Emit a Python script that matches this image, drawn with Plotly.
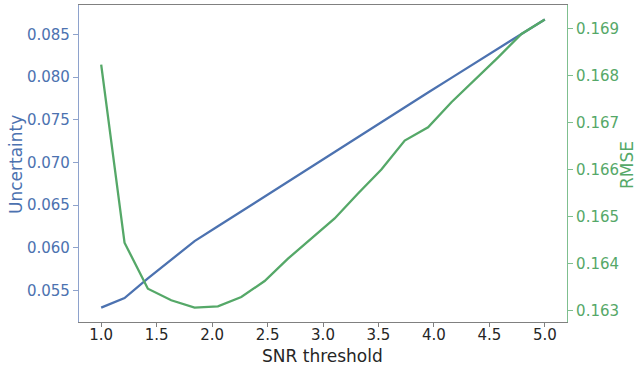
import numpy as np
import plotly.graph_objects as go

snr = np.linspace(1.0, 5.0, 20)
uncertainty = [0.05298, 0.05410, 0.05640, 0.05859, 0.06077, 0.06251, 0.06426,
               0.06600, 0.06774, 0.06947, 0.07121, 0.07295, 0.07475, 0.07647,
               0.07819, 0.07990, 0.08162, 0.08334, 0.08506, 0.08675]
rmse = [0.168234, 0.16444, 0.16346, 0.163213, 0.163057, 0.163085, 0.163283,
        0.163623, 0.164100, 0.164525, 0.164957, 0.165489, 0.166000, 0.166617,
        0.166900, 0.167432, 0.167908, 0.168389, 0.168887, 0.169198]

left_ticks = [0.055, 0.060, 0.065, 0.070, 0.075, 0.080, 0.085]
right_ticks = [0.163, 0.164, 0.165, 0.166, 0.167, 0.168, 0.169]
x_ticks = [1.0, 1.5, 2.0, 2.5, 3.0, 3.5, 4.0, 4.5, 5.0]

BLUE = "#4C72B0"
GREEN = "#55A868"
DARK = "#262626"
FONT = "DejaVu Sans"

W, H = 636, 368
ML, MR, MT, MB = 79, 69, 5, 46
PW, PH = W - ML - MR, H - MT - MB

def px(x):
    return (x - ML) / PW

def py(y):
    return (H - MB - y) / PH

fig = go.Figure()
fig.add_trace(go.Scatter(x=snr, y=uncertainty, mode="lines",
                         line=dict(color=BLUE, width=2.3), yaxis="y", showlegend=False))
fig.add_trace(go.Scatter(x=snr, y=rmse, mode="lines",
                         line=dict(color=GREEN, width=2.3), yaxis="y2", showlegend=False))

def pad(lo, hi):
    m = (hi - lo) * 0.05
    return [lo - m, hi + m]

fig.update_layout(
    width=W, height=H,
    margin=dict(l=ML, r=MR, t=MT, b=MB),
    paper_bgcolor="white", plot_bgcolor="white",
    font=dict(family=FONT, size=15, color=DARK),
    xaxis=dict(
        range=[0.8, 5.2], tickvals=x_ticks, ticktext=[f"{v:.1f}" for v in x_ticks],
        showgrid=False, zeroline=False, automargin=False,
        showline=True, linecolor="#808080", linewidth=1.2, mirror=True,
        ticks="outside", ticklen=4, tickcolor="#808080",
        ticklabelstandoff=-5,
        tickfont=dict(family=FONT, size=15, color=DARK),
    ),
    yaxis=dict(
        range=pad(min(uncertainty), max(uncertainty)),
        tickvals=left_ticks, ticktext=[f"{v:.3f}" for v in left_ticks],
        showgrid=False, zeroline=False, automargin=False,
        showline=True, linecolor="#8ea2cc", linewidth=1.2,
        ticks="outside", ticklen=5, tickcolor="#8ea2cc",
        tickfont=dict(family=FONT, size=15, color=BLUE),
    ),
    yaxis2=dict(
        range=pad(min(rmse), max(rmse)),
        tickvals=right_ticks, ticktext=[f"{v:.3f}" for v in right_ticks],
        overlaying="y", side="right", automargin=False,
        showgrid=False, zeroline=False,
        showline=True, linecolor="#7fbf8f", linewidth=1.2,
        ticks="outside", ticklen=5, tickcolor="#7fbf8f",
        tickfont=dict(family=FONT, size=15, color=GREEN),
    ),
    annotations=[
        dict(text="SNR threshold", xref="paper", yref="paper", x=px(322.5), y=py(356),
             xanchor="center", yanchor="middle", showarrow=False,
             font=dict(family=FONT, size=17, color=DARK)),
        dict(text="Uncertainty", xref="paper", yref="paper", x=px(16), y=py(165),
             xanchor="center", yanchor="middle", showarrow=False, textangle=-90,
             font=dict(family=FONT, size=17, color=BLUE)),
        dict(text="RMSE", xref="paper", yref="paper", x=px(627), y=py(165),
             xanchor="center", yanchor="middle", showarrow=False, textangle=-90,
             font=dict(family=FONT, size=17, color=GREEN)),
    ],
)

fig.write_html("out.html")
